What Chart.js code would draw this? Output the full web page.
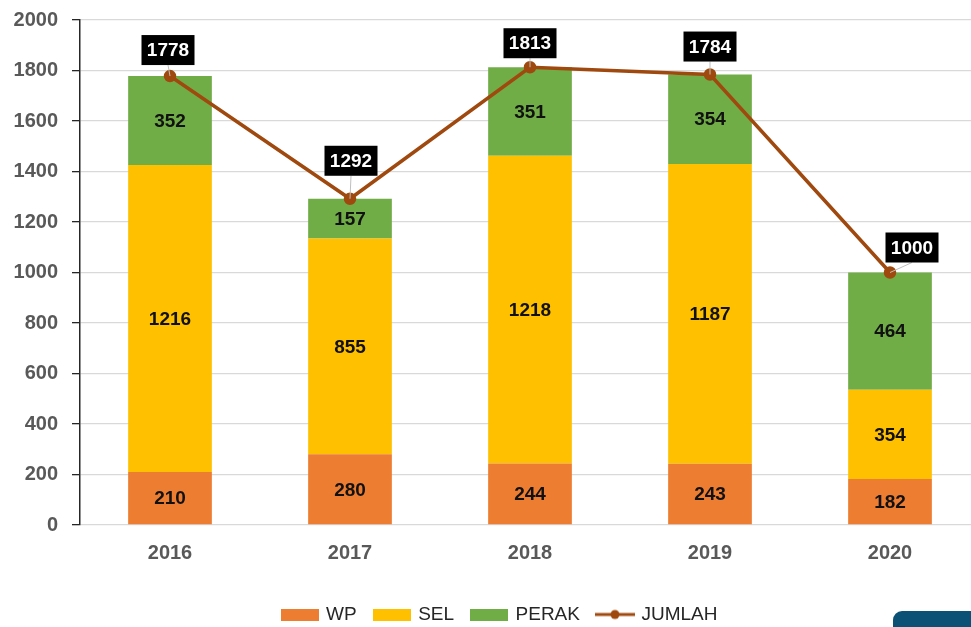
<!DOCTYPE html>
<html>
<head>
<meta charset="utf-8">
<script src="https://cdn.jsdelivr.net/npm/chart.js@4"></script>
<style>
    html, body { margin: 0; padding: 0; background: #fff; overflow: hidden; }
    #wrap { position: relative; width: 990px; height: 627px; }
    #corner { position: absolute; left: 893px; top: 611px; width: 120px; height: 40px; background: #0b5176; border-radius: 9px; }
</style>
</head>
<body>
<div id="wrap">
    <canvas id="myChart" width="990" height="627"></canvas>
    <div id="corner"></div>
</div>
<script>
var tahun = ["2016", "2017", "2018", "2019", "2020"];
var wp = [210, 280, 244, 243, 182];
var sel = [1216, 855, 1218, 1187, 354];
var perak = [352, 157, 351, 354, 464];
var jumlah = [1778, 1292, 1813, 1784, 1000];
var yTicks = [0, 200, 400, 600, 800, 1000, 1200, 1400, 1600, 1800, 2000];

var FONT = "'Liberation Sans', Arial, sans-serif";

// legend markers
function kotak(warna) {
    var c = document.createElement("canvas");
    c.width = 38; c.height = 12;
    var g = c.getContext("2d");
    g.fillStyle = warna;
    g.fillRect(0, 0, 38, 12);
    return c;
}
function garisTitik(warna) {
    var c = document.createElement("canvas");
    c.width = 40; c.height = 12;
    var g = c.getContext("2d");
    g.strokeStyle = warna;
    g.lineWidth = 3;
    g.beginPath(); g.moveTo(0, 6); g.lineTo(40, 6); g.stroke();
    g.fillStyle = warna;
    g.beginPath(); g.arc(20, 6, 4.5, 0, Math.PI * 2); g.fill();
    return c;
}

// labels inside bars + boxed labels for the total line
var labelPlugin = {
    id: "labelPlugin",
    afterLayout: function (chart) {
        // legend sits a bit right of centre in the original
        chart.legend.left += 10;
        chart.legend.right += 10;
    },
    afterDatasetsDraw: function (chart) {
        var ctx = chart.ctx;
        ctx.save();
        ctx.textAlign = "center";
        ctx.textBaseline = "middle";
        ctx.font = "bold 19px " + FONT;
        for (var d = 0; d < 3; d++) {
            var meta = chart.getDatasetMeta(d);
            meta.data.forEach(function (bar, i) {
                var v = chart.data.datasets[d].data[i];
                ctx.fillStyle = "#111";
                ctx.fillText(String(v), bar.x, (bar.y + bar.base) / 2 + 1);
            });
        }
        var lm = chart.getDatasetMeta(3);
        var offY = [26, 38, 24, 28, 25];
        var offX = [-2, 1, 0, 0, 22];
        lm.data.forEach(function (pt, i) {
            var v = String(jumlah[i]);
            var cx = pt.x + offX[i];
            var cy = pt.y - offY[i];
            var w = 53, h = 30;
            ctx.strokeStyle = "#bfbfbf";
            ctx.lineWidth = 1;
            ctx.beginPath();
            ctx.moveTo(pt.x, pt.y);
            ctx.lineTo(cx, cy + h / 2);
            ctx.stroke();
            ctx.fillStyle = "#000";
            ctx.fillRect(cx - w / 2, cy - h / 2, w, h);
            ctx.fillStyle = "#fff";
            ctx.fillText(v, cx, cy + 1);
        });
        ctx.restore();
    }
};

var ctx = document.getElementById("myChart").getContext("2d");

var myChart = new Chart(ctx, {
    type: "bar",
    data: {
        labels: tahun,
        datasets: [
            { label: "WP", data: wp, backgroundColor: "#ed7d31", order: 2, stack: "s" },
            { label: "SEL", data: sel, backgroundColor: "#ffc000", order: 2, stack: "s" },
            { label: "PERAK", data: perak, backgroundColor: "#70ad47", order: 2, stack: "s" },
            {
                type: "line",
                label: "JUMLAH",
                data: jumlah,
                borderColor: "#a0490f",
                backgroundColor: "#a0490f",
                borderWidth: 3.5,
                pointRadius: 4.5,
                pointHoverRadius: 4.5,
                tension: 0,
                order: 1,
            },
        ],
    },
    options: {
        responsive: false,
        animation: false,
        devicePixelRatio: 1,
        layout: { padding: { top: 20, right: 10, left: 0, bottom: -7 } },
        datasets: {
            bar: { barPercentage: 0.465, categoryPercentage: 1 },
        },
        plugins: {
            tooltip: { enabled: false },
            legend: {
                position: "bottom",
                labels: {
                    usePointStyle: true,
                    pointStyleWidth: 34,
                    padding: 18,
                    color: "#262626",
                    font: { family: FONT, size: 19 },
                    generateLabels: function (chart) {
                        var marks = [kotak("#ed7d31"), kotak("#ffc000"), kotak("#70ad47"), garisTitik("#a0490f")];
                        return chart.data.datasets.map(function (ds, i) {
                            return {
                                text: ds.label,
                                pointStyle: marks[i],
                                fillStyle: "transparent",
                                strokeStyle: "transparent",
                                lineWidth: 0,
                                fontColor: "#262626",
                                datasetIndex: i,
                            };
                        });
                    },
                },
            },
        },
        scales: {
            x: {
                stacked: true,
                grid: { display: false },
                border: { display: false },
                afterFit: function (axis) { axis.height += 14; },
                ticks: { color: "#595959", font: { family: FONT, size: 20, weight: "bold" }, padding: 8 },
            },
            y: {
                stacked: true,
                min: 0,
                max: 2000,
                afterBuildTicks: function (axis) {
                    axis.ticks = yTicks.map(function (v) { return { value: v }; });
                },
                afterFit: function (axis) { axis.width = 80; axis.paddingTop = 0; },
                grid: { color: "#d9d9d9", lineWidth: 1.3, tickColor: "#262626", tickLength: 8 },
                border: { display: true, color: "#262626", width: 1.5 },
                ticks: {
                    color: "#595959",
                    font: { family: FONT, size: 20, weight: "bold" },
                    padding: 14,
                    callback: function (v) { return String(v); },
                },
            },
        },
    },
    plugins: [labelPlugin],
});
</script>
</body>
</html>
